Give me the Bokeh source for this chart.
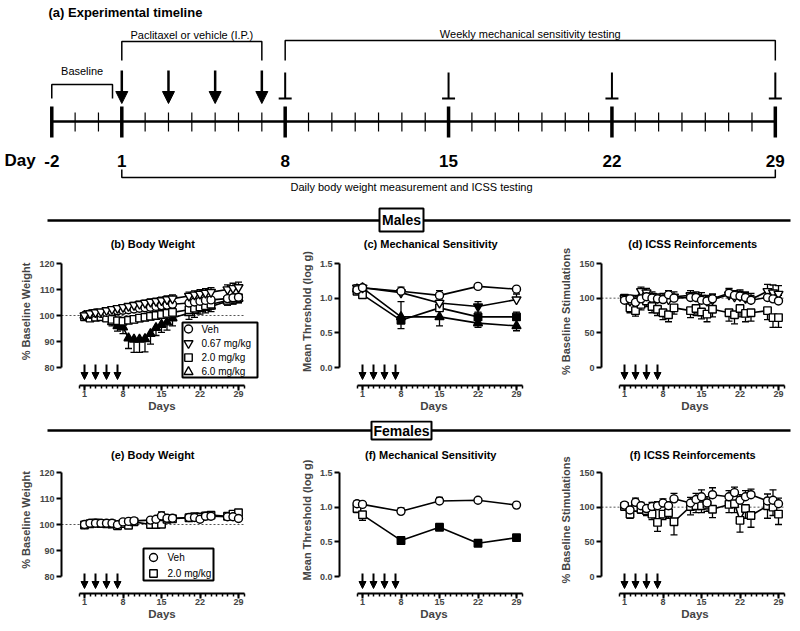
from bokeh.plotting import figure
from bokeh.models import (Range1d, FixedTicker, NumeralTickFormatter, Arrow, NormalHead,
                          ColumnDataSource)
from bokeh.layouts import column, row
from bokeh.embed import file_html
from bokeh.resources import INLINE
from bokeh.core.properties import value

FONT = "Liberation Sans"

# ---------------- data ----------------
INJECTION_DAYS = [1, 3, 5, 7]
VF_TEST_DAYS = [8, 15, 22, 29]
TIMELINE_DAYS = list(range(-2, 30))
TIMELINE_MAJOR = [-2, 1, 8, 15, 22, 29]
DAY_TICKS = [1, 8, 15, 22, 29]
DAY_MINOR = list(range(0, 31))

DAYS_DAILY = [1, 2, 3, 4, 5, 6, 7, 8, 9, 10, 13, 14, 15, 16, 17, 20, 21, 22, 23, 24, 27, 28, 29]
DAYS_BW_M = list(range(1, 18)) + [20, 21, 22, 23, 24, 27, 28, 29]
DAYS_VF = [0, 1, 8, 15, 22, 29]

BW_TICKS = [80, 90, 100, 110, 120]
VF_TICKS = [0.0, 0.5, 1.0, 1.5]
ICSS_TICKS = [0, 50, 100, 150]
BASELINE_PCT = 100

# Males body weight (% baseline)
m_bw_veh = [100.0, 100.6, 101.0, 100.8, 101.2, 101.5, 101.8, 102.0, 102.2, 102.5, 102.8, 103.0, 103.2,
            103.5, 103.8, 104.0, 104.3, 104.8, 105.2, 105.5, 105.8, 106.0, 106.5, 106.8, 107.0]
m_bw_veh_sem = [0.3, 0.5, 0.5, 0.6, 0.6, 0.7, 0.7, 0.8, 0.8, 0.8, 0.9, 0.9, 0.9, 1.0, 1.0, 1.0, 1.1,
                1.1, 1.2, 1.2, 1.2, 1.3, 1.3, 1.4, 1.4]
m_bw_067 = [100.0, 100.8, 101.2, 101.5, 102.0, 102.4, 102.8, 103.2, 103.6, 104.0, 104.4, 104.8, 105.2,
            105.5, 105.8, 106.2, 106.5, 107.5, 108.0, 108.3, 108.7, 109.0, 110.0, 110.5, 110.8]
m_bw_067_sem = [0.4, 0.6, 0.7, 0.7, 0.8, 0.8, 0.9, 0.9, 1.0, 1.0, 1.1, 1.1, 1.2, 1.2, 1.3, 1.3, 1.4,
                1.5, 1.5, 1.6, 1.6, 1.7, 1.8, 1.9, 2.0]
m_bw_20 = [99.5, 99.0, 99.3, 99.5, 99.0, 98.5, 98.0, 97.8, 98.2, 98.5, 99.0, 99.3, 99.7, 100.0, 100.4,
           100.8, 101.2, 102.2, 102.8, 103.3, 103.8, 104.3, 105.8, 106.3, 106.8]
m_bw_20_sem = [0.5, 0.8, 0.8, 0.9, 1.0, 1.0, 1.1, 1.2, 1.2, 1.3, 1.3, 1.3, 1.4, 1.4, 1.4, 1.5, 1.5,
               1.6, 1.6, 1.7, 1.7, 1.8, 1.8, 1.9, 1.9]
m_bw_60 = [100.0, 100.3, 100.0, 99.5, 99.0, 97.5, 96.0, 95.5, 91.3, 90.8, 90.8, 91.0, 93.0, 95.3, 96.5,
           97.4, 99.0, 101.0, 101.8, 102.5, 103.0, 103.5, 105.5, 106.0, 106.5]
m_bw_60_sem = [0.5, 0.8, 0.9, 1.0, 1.2, 1.5, 2.0, 2.5, 4.0, 5.0, 5.0, 5.0, 4.0, 3.0, 3.0, 3.0, 3.0,
               2.5, 2.5, 2.0, 2.0, 2.0, 1.5, 1.5, 1.5]
m_bw_60_sig = [False] * 6 + [True] * 11 + [False] * 8

# Males mechanical sensitivity (log g)
m_vf_veh = [1.12, 1.15, 1.10, 1.04, 1.17, 1.13]
m_vf_veh_sem = [0.04, 0.03, 0.06, 0.07, 0.02, 0.03]
m_vf_067 = [1.15, 1.15, 1.08, 0.93, 0.88, 0.98]
m_vf_067_sem = [0.04, 0.04, 0.05, 0.06, 0.07, 0.08]
m_vf_067_sig = [False, False, False, False, True, False]
m_vf_20 = [1.10, 1.05, 0.68, 0.86, 0.73, 0.73]
m_vf_20_sem = [0.05, 0.04, 0.27, 0.08, 0.07, 0.07]
m_vf_20_sig = [False, False, True, False, True, True]
m_vf_60 = [1.13, 1.15, 0.73, 0.73, 0.64, 0.60]
m_vf_60_sem = [0.04, 0.04, 0.17, 0.13, 0.06, 0.07]
m_vf_60_sig = [False, False, True, True, True, True]

# Males ICSS (% baseline stimulations)
m_ic_veh = [97, 99, 94, 99, 102, 100, 99, 98, 105, 100, 101, 101, 97, 96, 99, 107, 104, 103, 101, 97, 101, 99, 96]
m_ic_veh_sem = [4, 5, 5, 5, 4, 5, 5, 6, 6, 5, 6, 6, 6, 6, 6, 7, 7, 7, 7, 7, 8, 8, 8]
m_ic_067 = [100, 96, 98, 110, 108, 103, 100, 100, 98, 102, 104, 102, 100, 96, 98, 105, 102, 103, 100, 98, 110, 108, 106]
m_ic_067_sem = [5, 6, 6, 6, 6, 6, 6, 7, 7, 7, 7, 7, 8, 8, 8, 8, 9, 9, 9, 9, 10, 11, 12]
m_ic_20 = [100, 86, 82, 91, 96, 88, 84, 79, 76, 86, 82, 85, 80, 77, 84, 79, 76, 85, 78, 79, 82, 72, 72]
m_ic_20_sem = [6, 7, 8, 8, 8, 9, 9, 10, 10, 9, 10, 10, 10, 11, 11, 12, 13, 12, 12, 12, 13, 14, 14]

# Females body weight
f_bw_veh = [100.0, 100.5, 100.5, 100.5, 100.5, 100.5, 99.9, 101.0, 101.2, 101.4, 101.7, 102.0, 103.3,
            102.4, 102.4, 102.7, 102.7, 102.0, 103.2, 103.2, 103.0, 103.0, 102.3]
f_bw_veh_sem = [0.3, 0.4, 0.4, 0.5, 0.5, 0.5, 0.6, 0.7, 0.8, 0.8, 0.9, 1.0, 1.5, 1.0, 1.0, 1.0, 1.0,
                1.0, 1.0, 1.0, 1.1, 1.1, 1.2]
f_bw_20 = [99.8, 100.3, 100.6, 100.4, 100.3, 100.2, 99.5, 100.4, 99.7, 101.0, 100.0, 100.0, 100.1,
           102.0, 102.2, 102.6, 103.0, 102.9, 103.3, 103.6, 103.2, 104.0, 104.5]
f_bw_20_sem = [0.3, 0.4, 0.5, 0.5, 0.5, 0.6, 0.6, 1.0, 0.8, 0.8, 1.0, 1.0, 1.0, 1.0, 1.0, 1.0, 1.0,
               1.0, 1.0, 1.0, 1.0, 1.0, 1.0]

# Females mechanical sensitivity
f_vf_veh = [1.05, 1.04, 0.94, 1.09, 1.10, 1.03]
f_vf_veh_sem = [0.04, 0.03, 0.05, 0.05, 0.02, 0.04]
f_vf_20 = [0.98, 0.89, 0.52, 0.71, 0.48, 0.56]
f_vf_20_sem = [0.06, 0.08, 0.03, 0.04, 0.04, 0.04]
f_vf_20_sig = [False, False, True, True, True, True]

# Females ICSS
f_ic_veh = [103, 96, 107, 102, 98, 101, 102, 106, 102, 112, 106, 111, 115, 106, 118, 115, 121, 110, 115, 118, 109, 110, 105]
f_ic_veh_sem = [4, 5, 6, 5, 5, 6, 6, 6, 6, 8, 8, 9, 10, 9, 10, 9, 8, 8, 9, 8, 10, 15, 8]
f_ic_20 = [101, 90, 100, 97, 95, 90, 78, 90, 92, 79, 101, 102, 102, 104, 97, 104, 105, 81, 98, 88, 102, 100, 90]
f_ic_20_sem = [5, 6, 6, 6, 7, 8, 13, 8, 8, 19, 12, 10, 10, 10, 12, 12, 13, 17, 14, 17, 18, 12, 15]

# ---------------- styles ----------------
MARK = {"Veh": ("circle", 8), "0.67 mg/kg": ("inverted_triangle", 9),
        "2.0 mg/kg": ("square", 7.5), "6.0 mg/kg": ("triangle", 9)}

PXD = 5.5        # px per day in the panels
AX_PX = 104      # px length of the y axis
ROW_W = [270, 270, 260]
ROW_BL = [61, 69, 61]
ROW_BR = [8, 12, 12]
TOP_PAD = 26     # px between frame top and the y-axis top (title area)


def style_axis(ax, size, label_size):
    ax.axis_line_width = 2
    ax.major_tick_line_width = 2
    ax.major_tick_in = 0
    ax.major_tick_out = 5
    ax.minor_tick_in = 0
    ax.major_label_text_font = FONT
    ax.major_label_text_font_size = size
    ax.major_label_text_font_style = "bold"
    ax.axis_label_text_font = FONT
    ax.axis_label_text_font_size = label_size
    ax.axis_label_text_font_style = "bold"


def make_panel(i, h, bb, ymin, ymax, yticks, ylabel, title, title_px, fmt=None):
    w, bl, br = ROW_W[i], ROW_BL[i], ROW_BR[i]
    bt = 2
    fw, fh = w - bl - br, h - bt - bb
    x0 = 1 - 23 / PXD
    x1 = x0 + fw / PXD
    ppu = AX_PX / (ymax - ymin)
    y1 = ymax + TOP_PAD / ppu
    y0 = y1 - fh / ppu
    p = figure(width=w, height=h, x_range=Range1d(x0, x1), y_range=Range1d(y0, y1),
               output_backend="svg", toolbar_location=None, min_border_left=bl, min_border_right=br,
               min_border_top=bt, min_border_bottom=bb, outline_line_color=None)
    p.xgrid.visible = False
    p.ygrid.visible = False
    xa = p.xaxis[0]
    xa.ticker = FixedTicker(ticks=DAY_TICKS, minor_ticks=DAY_MINOR)
    xa.bounds = (0, 30)
    xa.axis_label = "Days"
    style_axis(xa, "9px", "11.5px")
    xa.minor_tick_out = 3
    xa.minor_tick_line_width = 1.5
    xa.major_label_standoff = 0
    xa.axis_label_standoff = 0
    ya = p.yaxis[0]
    ya.ticker = FixedTicker(ticks=yticks, minor_ticks=[])
    ya.bounds = (ymin, ymax)
    ya.axis_label = ylabel
    style_axis(ya, "9px", "11px")
    ya.major_label_standoff = 2
    ya.axis_label_standoff = 4
    if fmt:
        ya.formatter = NumeralTickFormatter(format=fmt)

    def at(px, py):
        # offsets in px from (frame left, y-axis top)
        return x0 + px / PXD, ymax - py / ppu

    p.text(x=[(x0 + 30) / 2], y=[ymax + title_px / ppu], text=[title], text_font=value(FONT),
           text_font_size="11px", text_font_style="bold", text_align="center", text_baseline="middle")
    # injection arrows
    top = at(0, 101)[1]
    tip = at(0, 116)[1]
    src = ColumnDataSource(dict(x=INJECTION_DAYS, a=[top] * 4, b=[tip] * 4))
    p.add_layout(Arrow(end=NormalHead(size=7, fill_color="black", line_color="black", line_width=1),
                       x_start="x", y_start="a", x_end="x", y_end="b", source=src,
                       line_color="black", line_width=2))
    return p, at, x0


def baseline(p, x0):
    p.segment(x0=[x0], y0=[BASELINE_PCT], x1=[30], y1=[BASELINE_PCT], line_color="#555555",
              line_width=1, line_dash="2 2")


def draw_series(p, series):
    for lab, d, m, s, sig, dr in series:
        end = [mi + dr * si for mi, si in zip(m, s)]
        p.segment(x0=d, y0=m, x1=d, y1=end, line_color="black", line_width=1.3)
        p.scatter(x=d, y=end, marker="dash", size=7, line_color="black", line_width=1.3)
        p.line(x=d, y=m, line_color="black", line_width=1.6)
    for lab, d, m, s, sig, dr in series:
        mk, sz = MARK[lab]
        fills = ["black" if (sig and sig[k]) else "white" for k in range(len(d))]
        src = ColumnDataSource(dict(x=d, y=m, f=fills))
        p.scatter("x", "y", source=src, marker=mk, size=sz, fill_color="f", line_color="black",
                  line_width=1.4)


def legend(p, at, labels, left, top, w, h, row0, step, mx, tx):
    cx, cy = at(left + w / 2, top + h / 2)
    p.rect(x=[cx], y=[cy], width=w, height=h, width_units="screen", height_units="screen",
           fill_color="white", line_color="black", line_width=2)
    for k, lab in enumerate(labels):
        mk, sz = MARK[lab]
        x_m, y_m = at(mx, row0 + k * step)
        x_t, _ = at(tx, 0)
        p.scatter(x=[x_m], y=[y_m], marker=mk, size=sz, fill_color="white", line_color="black",
                  line_width=1.4)
        p.text(x=[x_t], y=[y_m], text=[lab], text_font=value(FONT), text_font_size="10px",
               text_baseline="middle", text_align="left", text_color="black")


# ---------------- timeline figure ----------------
PXT = 23.34
TX0 = 1 - 121.3 / PXT
TX1 = TX0 + 800 / PXT


def tday(px):
    return TX0 + px / PXT


tl = figure(width=800, height=235, x_range=Range1d(TX0, TX1), y_range=Range1d(235, 0),
            output_backend="svg", toolbar_location=None, min_border=0,
            x_axis_location=None, y_axis_location=None, outline_line_color=None)
tl.xgrid.visible = False
tl.ygrid.visible = False

tl.text(x=[tday(48)], y=[12], text=["(a) Experimental timeline"], text_font=value(FONT),
        text_font_size="13px", text_font_style="bold", text_baseline="middle", text_align="left")
# main axis
tl.segment(x0=[TIMELINE_DAYS[0]], y0=[121], x1=[TIMELINE_DAYS[-1]], y1=[121], line_color="black", line_width=2.5)
minor = [d for d in TIMELINE_DAYS if d not in TIMELINE_MAJOR]
tl.segment(x0=minor, y0=[112] * len(minor), x1=minor, y1=[131] * len(minor), line_color="black", line_width=1.2)
tl.segment(x0=TIMELINE_MAJOR, y0=[106] * 6, x1=TIMELINE_MAJOR, y1=[137] * 6, line_color="black", line_width=3.5)
tl.text(x=TIMELINE_MAJOR, y=[160] * 6, text=[str(d) for d in TIMELINE_MAJOR], text_font=value(FONT),
        text_font_size="17px", text_font_style="bold", text_baseline="middle", text_align="center")
tl.text(x=[tday(4)], y=[160], text=["Day"], text_font=value(FONT), text_font_size="17px",
        text_font_style="bold", text_baseline="middle", text_align="left")
# baseline bracket
bl_end = tday(112)
tl.multi_line(xs=[[-2, -2, bl_end, bl_end]], ys=[[98, 84, 84, 98]], line_color="black", line_width=1.5)
tl.text(x=[(-2 + bl_end) / 2], y=[70], text=["Baseline"], text_font=value(FONT), text_font_size="11px",
        text_baseline="middle", text_align="center")
# paclitaxel bracket + arrows
tl.multi_line(xs=[[INJECTION_DAYS[0], INJECTION_DAYS[0], INJECTION_DAYS[-1], INJECTION_DAYS[-1]]],
              ys=[[60, 41, 41, 60]], line_color="black", line_width=1.5)
tl.text(x=[(INJECTION_DAYS[0] + INJECTION_DAYS[-1]) / 2], y=[34], text=["Paclitaxel or vehicle (I.P.)"],
        text_font=value(FONT), text_font_size="11px", text_baseline="middle", text_align="center")
asrc = ColumnDataSource(dict(x=INJECTION_DAYS, a=[70] * 4, b=[103] * 4))
tl.add_layout(Arrow(end=NormalHead(size=12, fill_color="black", line_color="black", line_width=1),
                    x_start="x", y_start="a", x_end="x", y_end="b", source=asrc,
                    line_color="black", line_width=2.5))
# weekly bracket + test marks
tl.multi_line(xs=[[VF_TEST_DAYS[0], VF_TEST_DAYS[0], VF_TEST_DAYS[-1], VF_TEST_DAYS[-1]]],
              ys=[[60, 40, 40, 60]], line_color="black", line_width=1.5)
tl.text(x=[(VF_TEST_DAYS[0] + VF_TEST_DAYS[-1]) / 2], y=[33], text=["Weekly mechanical sensitivity testing"],
        text_font=value(FONT), text_font_size="11px", text_baseline="middle", text_align="center")
tl.segment(x0=VF_TEST_DAYS, y0=[72] * 4, x1=VF_TEST_DAYS, y1=[98] * 4, line_color="black", line_width=2)
tl.scatter(x=VF_TEST_DAYS, y=[98] * 4, marker="dash", size=13, line_color="black", line_width=2)
# daily bracket
tl.multi_line(xs=[[1, 1, 29, 29]], ys=[[169, 177, 177, 169]], line_color="black", line_width=1.5)
tl.text(x=[tday(411)], y=[186], text=["Daily body weight measurement and ICSS testing"],
        text_font=value(FONT), text_font_size="11px", text_baseline="middle", text_align="center")
# Males header
HC = tday(401)
tl.segment(x0=[tday(47)], y0=[220], x1=[tday(790)], y1=[220], line_color="black", line_width=2.5)
tl.rect(x=[HC], y=[219.5], width=44, height=23, width_units="screen", height_units="screen",
        fill_color="white", line_color="black", line_width=2)
tl.text(x=[HC], y=[219.5], text=["Males"], text_font=value(FONT), text_font_size="14px",
        text_font_style="bold", text_baseline="middle", text_align="center")

# Females header
fh = figure(width=800, height=24, x_range=Range1d(TX0, TX1), y_range=Range1d(24, 0),
            output_backend="svg", toolbar_location=None, min_border=0,
            x_axis_location=None, y_axis_location=None, outline_line_color=None)
fh.xgrid.visible = False
fh.ygrid.visible = False
fh.segment(x0=[tday(47)], y0=[10], x1=[tday(790)], y1=[10], line_color="black", line_width=2.5)
fh.rect(x=[HC], y=[10], width=60, height=18, width_units="screen", height_units="screen",
        fill_color="white", line_color="black", line_width=2)
fh.text(x=[HC], y=[10], text=["Females"], text_font=value(FONT), text_font_size="14px",
        text_font_style="bold", text_baseline="middle", text_align="center")

# ---------------- males panels ----------------
MH, MB = 185, 35
pb, atb, xb = make_panel(0, MH, MB, 80, 120, BW_TICKS, "% Baseline Weight", "(b) Body Weight", 20)
baseline(pb, xb)
draw_series(pb, [
    ("6.0 mg/kg", DAYS_BW_M, m_bw_60, m_bw_60_sem, m_bw_60_sig, -1),
    ("2.0 mg/kg", DAYS_BW_M, m_bw_20, m_bw_20_sem, None, -1),
    ("Veh", DAYS_BW_M, m_bw_veh, m_bw_veh_sem, None, -1),
    ("0.67 mg/kg", DAYS_BW_M, m_bw_067, m_bw_067_sem, None, 1),
])
legend(pb, atb, ["Veh", "0.67 mg/kg", "2.0 mg/kg", "6.0 mg/kg"], 121, 59, 75, 55, 65.5, 14.3, 127, 140)

pc, atc, xc = make_panel(1, MH, MB, 0, 1.5, VF_TICKS, "Mean Threshold (log g)",
                         "(c) Mechanical Sensitivity", 20, fmt="0.0")
draw_series(pc, [
    ("6.0 mg/kg", DAYS_VF, m_vf_60, m_vf_60_sem, m_vf_60_sig, -1),
    ("2.0 mg/kg", DAYS_VF, m_vf_20, m_vf_20_sem, m_vf_20_sig, 1),
    ("0.67 mg/kg", DAYS_VF, m_vf_067, m_vf_067_sem, m_vf_067_sig, 1),
    ("Veh", DAYS_VF, m_vf_veh, m_vf_veh_sem, None, 1),
])

pd_, atd, xd = make_panel(2, MH, MB, 0, 150, ICSS_TICKS, "% Baseline Stimulations",
                          "(d) ICSS Reinforcements", 20)
baseline(pd_, xd)
draw_series(pd_, [
    ("2.0 mg/kg", DAYS_DAILY, m_ic_20, m_ic_20_sem, None, -1),
    ("0.67 mg/kg", DAYS_DAILY, m_ic_067, m_ic_067_sem, None, 1),
    ("Veh", DAYS_DAILY, m_ic_veh, m_ic_veh_sem, None, 1),
])

# ---------------- females panels ----------------
FHT, FB = 187, 38
pe, ate, xe = make_panel(0, FHT, FB, 80, 120, BW_TICKS, "% Baseline Weight", "(e) Body Weight", 18)
baseline(pe, xe)
draw_series(pe, [
    ("2.0 mg/kg", DAYS_DAILY, f_bw_20, f_bw_20_sem, None, -1),
    ("Veh", DAYS_DAILY, f_bw_veh, f_bw_veh_sem, None, 1),
])
legend(pe, ate, ["Veh", "2.0 mg/kg"], 82, 76, 70, 32, 85, 16, 92, 106)

pf, atf, xf = make_panel(1, FHT, FB, 0, 1.5, VF_TICKS, "Mean Threshold (log g)",
                         "(f) Mechanical Sensitivity", 18, fmt="0.0")
draw_series(pf, [
    ("2.0 mg/kg", DAYS_VF, f_vf_20, f_vf_20_sem, f_vf_20_sig, -1),
    ("Veh", DAYS_VF, f_vf_veh, f_vf_veh_sem, None, 1),
])

pg, atg, xg = make_panel(2, FHT, FB, 0, 150, ICSS_TICKS, "% Baseline Stimulations",
                         "(f) ICSS Reinforcements", 18)
baseline(pg, xg)
draw_series(pg, [
    ("2.0 mg/kg", DAYS_DAILY, f_ic_20, f_ic_20_sem, None, -1),
    ("Veh", DAYS_DAILY, f_ic_veh, f_ic_veh_sem, None, 1),
])

layout = column(tl, row(pb, pc, pd_), fh, row(pe, pf, pg))
open("out.html", "w").write(file_html(layout, INLINE))
